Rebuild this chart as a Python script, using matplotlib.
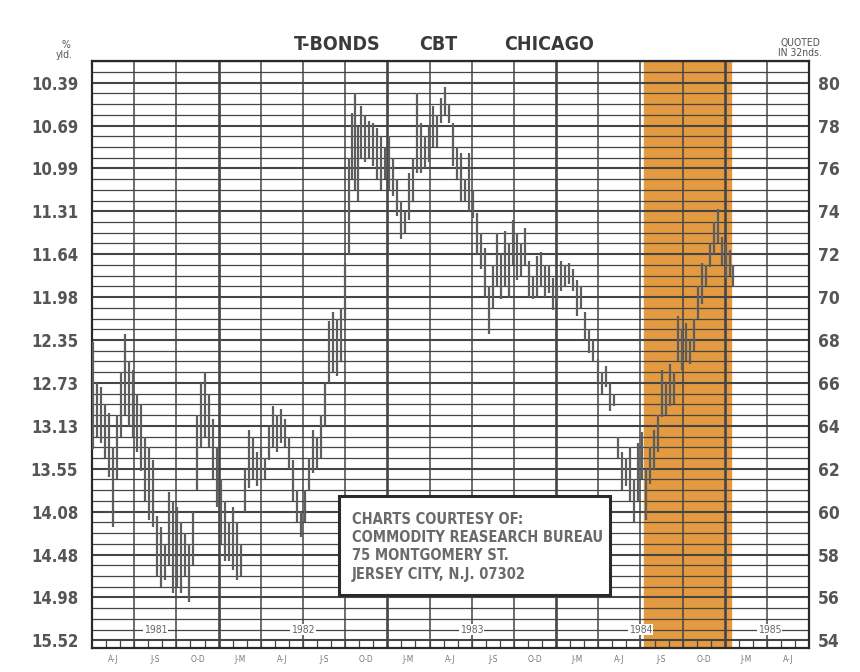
"""
T-Bonds CBT Chicago price chart (1981-1985) with yield scale
"""
import matplotlib.pyplot as plt
from matplotlib.patches import Rectangle

plt.rcParams['font.family'] = ['DejaVu Sans']
plt.rcParams['font.stretch'] = 'condensed'

# Bars: months since Apr 1981, high and low price (points, quoted in 32nds)
months = [0.07, 0.36, 0.64, 0.92, 1.21, 1.49, 1.78, 2.06, 2.35, 2.63, 2.92, 3.2, 3.49, 3.77,
          4.05, 4.34, 4.62, 4.91, 5.19, 5.48, 5.76, 6.05, 6.33, 6.61, 6.9, 7.18, 7.47, 7.75,
          8.04, 8.32, 8.61, 8.89, 9.17, 9.46, 9.74, 10.03, 10.31, 10.6, 10.88, 11.17, 11.45,
          11.74, 12.02, 12.3, 12.59, 12.87, 13.16, 13.44, 13.73, 14.01, 14.3, 14.58, 14.86,
          15.15, 15.43, 15.72, 16.0, 16.29, 16.57, 16.86, 17.14, 17.43, 17.71, 17.99, 18.28,
          18.49, 18.71, 18.92, 19.13, 19.42, 19.7, 19.99, 20.27, 20.55, 20.84, 21.12, 21.41,
          21.69, 21.98, 22.26, 22.55, 22.83, 23.12, 23.4, 23.68, 23.97, 24.25, 24.54, 24.82,
          25.11, 25.39, 25.68, 25.96, 26.24, 26.53, 26.81, 27.1, 27.38, 27.67, 27.95, 28.24,
          28.52, 28.8, 29.09, 29.37, 29.66, 29.94, 30.23, 30.51, 30.8, 31.08, 31.37, 31.65,
          31.93, 32.22, 32.5, 32.79, 33.07, 33.36, 33.64, 33.93, 34.21, 34.5, 34.78, 35.06,
          35.35, 35.63, 35.99, 36.27, 36.56, 36.84, 37.13, 37.41, 37.7, 37.98, 38.26, 38.55,
          38.83, 39.12, 39.4, 39.69, 39.97, 40.26, 40.54, 40.83, 41.11, 41.39, 41.68, 41.96,
          42.25, 42.53, 42.82, 43.1, 43.39, 43.67, 43.95, 44.24, 44.52, 44.81, 45.09, 45.38,
          45.59]
highs = [67.9, 66.0, 65.8, 65.0, 64.6, 63.0, 64.5, 66.5, 68.3, 67.0, 66.6, 65.5, 65.0, 63.5,
         63.0, 62.4, 59.8, 59.3, 58.5, 60.9, 60.5, 60.2, 59.5, 59.0, 58.5, 60.0, 64.5, 66.0,
         66.5, 65.5, 64.3, 63.0, 61.5, 60.5, 59.5, 60.2, 59.5, 58.5, 62.0, 63.8, 63.5,
         62.8, 63.0, 62.5, 64.0, 64.9, 64.5, 64.8, 64.3, 63.5, 62.4, 61.0, 60.0,
         61.0, 62.5, 63.8, 63.5, 64.5, 66.0, 68.9, 69.3, 69.0, 69.5, 71.6, 76.5,
         78.6, 79.5, 78.0, 78.9, 78.5, 78.2, 78.1, 77.9, 77.5, 77.0, 77.5, 76.5,
         75.5, 74.5, 74.0, 75.8, 76.5, 79.5, 78.1, 77.5, 78.0, 78.9, 78.5, 79.3,
         79.8, 79.0, 78.1, 77.0, 76.7, 75.5, 76.7, 75.0, 73.9, 73.0, 72.3, 70.5,
         71.5, 73.0, 72.0, 73.1, 72.5, 73.6, 73.0, 72.5, 73.2, 71.7, 71.0, 71.9,
         72.1, 71.5, 71.5, 70.9, 70.5, 71.7, 71.5, 71.6, 71.3, 70.8, 70.5, 69.3,
         68.5, 68.0, 67.1, 66.5, 66.8, 66.0, 65.5, 63.5, 62.8, 62.5, 63.0, 61.5,
         63.2, 63.7, 62.0, 63.0, 63.8, 64.5, 66.6, 66.0, 66.9, 66.5, 69.1, 68.5,
         68.8, 68.0, 69.0, 70.5, 71.6, 71.5, 72.5, 73.5, 74.1, 72.8, 72.5, 72.2,
         71.5]
lows = [62.9, 63.5, 63.2, 62.5, 61.6, 59.3, 61.5, 63.5, 64.5, 64.0, 63.5, 62.8, 61.9, 60.5,
        59.6, 59.3, 57.0, 56.5, 56.8, 57.5, 56.2, 56.5, 56.2, 57.0, 55.8, 57.5, 61.0, 63.0,
        63.5, 63.0, 61.5, 60.2, 58.5, 57.7, 57.7, 57.3, 56.8, 57.0, 60.0, 61.1, 61.5,
        61.2, 61.5, 61.5, 62.4, 63.0, 62.8, 63.2, 63.0, 62.0, 60.5, 59.5, 58.8,
        59.5, 61.0, 61.8, 62.0, 62.5, 64.0, 66.0, 66.5, 66.3, 67.0, 68.9, 72.0,
        75.5, 75.0, 74.5, 76.5, 76.3, 76.5, 76.1, 75.5, 75.0, 75.5, 75.0, 74.7,
        73.8, 72.7, 73.0, 73.6, 74.5, 75.8, 75.8, 76.0, 76.3, 77.0, 77.0, 78.1,
        78.5, 78.1, 76.1, 75.5, 74.5, 74.5, 74.0, 73.7, 72.0, 71.3, 70.0, 68.3,
        69.5, 70.5, 69.9, 70.5, 70.0, 71.5, 70.8, 71.0, 71.5, 70.0, 69.9, 70.0,
        70.5, 70.0, 70.2, 69.4, 69.8, 70.3, 70.5, 70.6, 70.3, 69.1, 69.5, 68.0,
        67.4, 67.0, 66.0, 65.5, 65.8, 64.7, 64.9, 62.5, 61.0, 61.2, 60.5, 59.5,
        60.5, 61.5, 59.6, 61.3, 62.0, 62.8, 64.4, 64.5, 64.9, 65.0, 67.0, 66.6,
        67.0, 66.9, 67.5, 69.0, 69.7, 70.5, 71.4, 72.0, 72.5, 71.5, 70.9, 71.0,
        70.5]

# Axis scales
prices = [80, 78, 76, 74, 72, 70, 68, 66, 64, 62, 60, 58, 56, 54]
yields = ['10.39', '10.69', '10.99', '11.31', '11.64', '11.98', '12.35', '12.73',
          '13.13', '13.55', '14.08', '14.48', '14.98', '15.52']
quarters = ['A-J', 'J-S', 'O-D', 'J-M', 'A-J', 'J-S', 'O-D', 'J-M', 'A-J', 'J-S', 'O-D',
            'J-M', 'A-J', 'J-S', 'O-D', 'J-M', 'A-J']
years = ['1981', '1982', '1983', '1984', '1985']
year_centers = [4.5, 15, 27, 39, 48.2]
year_starts = [9, 21, 33, 45]
highlight = (39.25, 45.4)
credit = ['CHARTS COURTESY OF:', 'COMMODITY REASEARCH BUREAU',
          '75 MONTGOMERY ST.', 'JERSEY CITY, N.J. 07302']

GRID = '#454545'
YMIN, YMAX = 53.65, 81.0
XMAX = 51

fig = plt.figure(figsize=(8.6, 6.72), dpi=100)
ax = fig.add_axes([0.107, 0.036, 0.834, 0.873])
ax.set_xlim(0, XMAX)
ax.set_ylim(YMIN, YMAX)

# Highlighted period
ax.axvspan(highlight[0], highlight[1], color='#E39A40', zorder=0)

# Horizontal grid every half point, heavier at labelled levels
p = 54.0
while p <= 81.0:
    heavy = (p % 2 == 0)
    ax.axhline(p, color=GRID, lw=1.5 if heavy else 0.9, zorder=1)
    p += 0.5

# Quarter lines, heavier at year boundaries
for q in range(3, XMAX, 3):
    ax.axvline(q, color=GRID, lw=1.9 if q in year_starts else 1.1, zorder=1)

# Month ticks along the bottom strip
ax.vlines(range(1, XMAX), YMIN, 54.0, color=GRID, lw=0.9, zorder=1)

# Year labels on the bottom row
for yr, xc in zip(years, year_centers):
    ax.text(xc, 54.5, yr, ha='center', va='center', fontsize=7.5, color='#666666',
            bbox=dict(facecolor='white', edgecolor='none', pad=0.6), zorder=2)

# Quarter labels under the chart
for i, q in enumerate(quarters):
    ax.text(1.5 + 3 * i, -0.02, q, transform=ax.get_xaxis_transform(), ha='center',
            va='center', fontsize=6, color='#777777')

# Price bars
ax.vlines(months, lows, highs, color='#5e5e5e', lw=1.6, zorder=3)

# Credit box
ax.add_patch(Rectangle((17.57, 56.09), 36.84 - 17.57, 60.74 - 56.09, facecolor='white',
                       edgecolor='#2a2a2a', lw=2.2, zorder=4))
for line, yv in zip(credit, [59.63, 58.79, 57.95, 57.07]):
    ax.text(18.49, yv, line, ha='left', va='center', fontsize=10.5, fontweight='bold',
            color='#6a6a6a', zorder=5)

# Left yield scale
ax.set_yticks(prices)
ax.set_yticklabels(yields, fontsize=12, fontweight='bold', color='#555555')
ax.tick_params(axis='y', length=0, pad=10)
ax.set_xticks([])
for s in ax.spines.values():
    s.set_color('#2a2a2a')
    s.set_linewidth(1.6)

# Right price scale
ax2 = ax.twinx()
ax2.set_ylim(YMIN, YMAX)
ax2.set_yticks(prices)
ax2.set_yticklabels([str(v) for v in prices], fontsize=12.5, fontweight='bold', color='#555555')
ax2.tick_params(axis='y', length=0, pad=6)
for s in ax2.spines.values():
    s.set_visible(False)

# Titles and scale captions
for txt, xp in [('T-BONDS', 337), ('CBT', 438), ('CHICAGO', 549)]:
    fig.text(xp / 860, 1 - 44 / 672, txt, ha='center', va='center', fontsize=14,
             fontweight='bold', color='#3a3a3a')
fig.text(66 / 860, 1 - 45 / 672, '%', ha='center', va='center', fontsize=7.5, color='#555555')
fig.text(64 / 860, 1 - 55 / 672, 'yld.', ha='center', va='center', fontsize=7.5, color='#555555')
fig.text(800 / 860, 1 - 43 / 672, 'QUOTED', ha='center', va='center', fontsize=7.5, color='#555555')
fig.text(800 / 860, 1 - 53 / 672, 'IN 32nds.', ha='center', va='center', fontsize=7.5,
         color='#555555')

plt.savefig('out.png', dpi=100)
